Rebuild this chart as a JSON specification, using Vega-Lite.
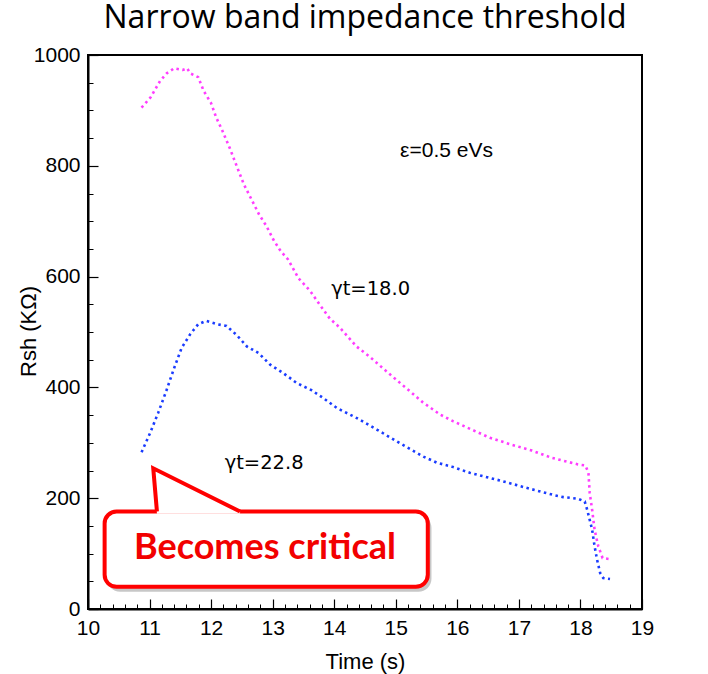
{
  "$schema": "https://vega.github.io/schema/vega-lite/v6.json",
  "width": 554,
  "height": 554,
  "autosize": "none",
  "padding": {"left": 88, "top": 55, "right": 66, "bottom": 65},
  "background": "white",
  "config": {
    "view": {"stroke": "black", "strokeWidth": 2},
    "axis": {
      "grid": false,
      "labelFont": "Liberation Sans",
      "titleFont": "Liberation Sans",
      "labelColor": "black",
      "titleColor": "black",
      "tickColor": "black",
      "domainColor": "black"
    }
  },
  "title": {
    "text": "Narrow  band impedance threshold",
    "font": "Open Sans",
    "fontSize": 32,
    "fontWeight": "normal",
    "color": "black",
    "anchor": "middle",
    "baseline": "alphabetic",
    "offset": -16
  },
  "datasets": {
    "curves": [
      {"series": "gt18", "t": 10.87, "r": 905},
      {"series": "gt18", "t": 11.02, "r": 924},
      {"series": "gt18", "t": 11.17, "r": 953},
      {"series": "gt18", "t": 11.28, "r": 967},
      {"series": "gt18", "t": 11.40, "r": 976},
      {"series": "gt18", "t": 11.54, "r": 973},
      {"series": "gt18", "t": 11.61, "r": 976},
      {"series": "gt18", "t": 11.66, "r": 967},
      {"series": "gt18", "t": 11.79, "r": 960},
      {"series": "gt18", "t": 11.88, "r": 935},
      {"series": "gt18", "t": 12.00, "r": 913},
      {"series": "gt18", "t": 12.08, "r": 888},
      {"series": "gt18", "t": 12.18, "r": 864},
      {"series": "gt18", "t": 12.31, "r": 830},
      {"series": "gt18", "t": 12.40, "r": 804},
      {"series": "gt18", "t": 12.53, "r": 767},
      {"series": "gt18", "t": 12.63, "r": 745},
      {"series": "gt18", "t": 12.78, "r": 712},
      {"series": "gt18", "t": 12.90, "r": 691},
      {"series": "gt18", "t": 13.01, "r": 667},
      {"series": "gt18", "t": 13.13, "r": 646},
      {"series": "gt18", "t": 13.25, "r": 631},
      {"series": "gt18", "t": 13.42, "r": 597},
      {"series": "gt18", "t": 13.61, "r": 574},
      {"series": "gt18", "t": 13.76, "r": 550},
      {"series": "gt18", "t": 13.93, "r": 524},
      {"series": "gt18", "t": 14.09, "r": 508},
      {"series": "gt18", "t": 14.36, "r": 474},
      {"series": "gt18", "t": 14.58, "r": 455},
      {"series": "gt18", "t": 14.90, "r": 424},
      {"series": "gt18", "t": 15.23, "r": 393},
      {"series": "gt18", "t": 15.44, "r": 373},
      {"series": "gt18", "t": 15.72, "r": 351},
      {"series": "gt18", "t": 15.93, "r": 339},
      {"series": "gt18", "t": 16.23, "r": 324},
      {"series": "gt18", "t": 16.53, "r": 309},
      {"series": "gt18", "t": 16.87, "r": 297},
      {"series": "gt18", "t": 17.21, "r": 286},
      {"series": "gt18", "t": 17.53, "r": 273},
      {"series": "gt18", "t": 17.96, "r": 261},
      {"series": "gt18", "t": 18.08, "r": 259},
      {"series": "gt18", "t": 18.13, "r": 246},
      {"series": "gt18", "t": 18.15, "r": 210},
      {"series": "gt18", "t": 18.19, "r": 179},
      {"series": "gt18", "t": 18.23, "r": 143},
      {"series": "gt18", "t": 18.29, "r": 113},
      {"series": "gt18", "t": 18.36, "r": 92},
      {"series": "gt18", "t": 18.48, "r": 90},
      {"series": "gt22", "t": 10.87, "r": 283},
      {"series": "gt22", "t": 11.01, "r": 318},
      {"series": "gt22", "t": 11.14, "r": 354},
      {"series": "gt22", "t": 11.27, "r": 393},
      {"series": "gt22", "t": 11.39, "r": 432},
      {"series": "gt22", "t": 11.52, "r": 471},
      {"series": "gt22", "t": 11.66, "r": 496},
      {"series": "gt22", "t": 11.79, "r": 514},
      {"series": "gt22", "t": 11.92, "r": 520},
      {"series": "gt22", "t": 12.10, "r": 514},
      {"series": "gt22", "t": 12.25, "r": 511},
      {"series": "gt22", "t": 12.42, "r": 494},
      {"series": "gt22", "t": 12.58, "r": 474},
      {"series": "gt22", "t": 12.77, "r": 462},
      {"series": "gt22", "t": 12.96, "r": 441},
      {"series": "gt22", "t": 13.17, "r": 426},
      {"series": "gt22", "t": 13.39, "r": 408},
      {"series": "gt22", "t": 13.63, "r": 395},
      {"series": "gt22", "t": 13.82, "r": 381},
      {"series": "gt22", "t": 14.04, "r": 363},
      {"series": "gt22", "t": 14.36, "r": 345},
      {"series": "gt22", "t": 14.69, "r": 324},
      {"series": "gt22", "t": 15.01, "r": 303},
      {"series": "gt22", "t": 15.34, "r": 282},
      {"series": "gt22", "t": 15.45, "r": 275},
      {"series": "gt22", "t": 15.67, "r": 264},
      {"series": "gt22", "t": 15.91, "r": 257},
      {"series": "gt22", "t": 16.20, "r": 246},
      {"series": "gt22", "t": 16.69, "r": 232},
      {"series": "gt22", "t": 17.18, "r": 217},
      {"series": "gt22", "t": 17.59, "r": 205},
      {"series": "gt22", "t": 17.72, "r": 202},
      {"series": "gt22", "t": 17.96, "r": 199},
      {"series": "gt22", "t": 18.07, "r": 194},
      {"series": "gt22", "t": 18.11, "r": 179},
      {"series": "gt22", "t": 18.15, "r": 161},
      {"series": "gt22", "t": 18.19, "r": 143},
      {"series": "gt22", "t": 18.23, "r": 113},
      {"series": "gt22", "t": 18.27, "r": 89},
      {"series": "gt22", "t": 18.32, "r": 65},
      {"series": "gt22", "t": 18.37, "r": 56},
      {"series": "gt22", "t": 18.48, "r": 54}
    ],
    "shadow": [{"t": 10.31, "t2": 15.58, "r": 170, "r2": 31}],
    "box": [{"t": 10.27, "t2": 15.52, "r": 176, "r2": 40}],
    "pointer": [
      {"t": 11.06, "r": 254, "r2": 254},
      {"t": 11.12, "r": 250.7, "r2": 172},
      {"t": 12.47, "r": 176, "r2": 172}
    ],
    "pointerEdge": [
      {"k": 1, "t": 11.12, "r": 176},
      {"k": 2, "t": 11.06, "r": 254},
      {"k": 3, "t": 12.47, "r": 176}
    ],
    "energy": [{"text": "ε=0.5 eVs", "t": 15.07, "r": 826}],
    "gamma": [
      {"text": "γt=18.0", "t": 13.95, "r": 577},
      {"text": "γt=22.8", "t": 12.22, "r": 264}
    ],
    "callout": [{"text": "Becomes critical", "t": 12.875, "r": 90}]
  },
  "layer": [
    {
      "data": {"name": "shadow"},
      "mark": {"type": "rect", "color": "#000000", "opacity": 0.22, "cornerRadius": 13},
      "encoding": {
        "x": {
          "field": "t", "type": "quantitative",
          "scale": {"domain": [10, 19], "nice": false, "zero": false},
          "axis": {
            "orient": "bottom",
            "values": [10.2, 10.4, 10.6, 10.8, 11.2, 11.4, 11.6, 11.8, 12.2, 12.4, 12.6, 12.8, 13.2, 13.4, 13.6, 13.8, 14.2, 14.4, 14.6, 14.8, 15.2, 15.4, 15.6, 15.8, 16.2, 16.4, 16.6, 16.8, 17.2, 17.4, 17.6, 17.8, 18.2, 18.4, 18.6, 18.8],
            "tickSize": -5,
            "tickWidth": 1,
            "labels": false,
            "domain": false,
            "title": null
          }
        },
        "x2": {"field": "t2"},
        "y": {
          "field": "r", "type": "quantitative",
          "scale": {"domain": [0, 1000], "nice": false, "zero": false},
          "axis": {
            "orient": "left",
            "values": [50, 100, 150, 250, 300, 350, 450, 500, 550, 650, 700, 750, 850, 900, 950],
            "tickSize": -5,
            "tickWidth": 1,
            "labels": false,
            "domain": false,
            "title": null
          }
        },
        "y2": {"field": "r2"}
      }
    },
    {
      "data": {"name": "box"},
      "mark": {"type": "rect", "fill": "white", "stroke": "#ff0000", "strokeWidth": 4, "cornerRadius": 12},
      "encoding": {
        "x": {"field": "t", "type": "quantitative", "scale": {"domain": [10, 19], "nice": false, "zero": false}, "axis": null},
        "x2": {"field": "t2"},
        "y": {"field": "r", "type": "quantitative", "scale": {"domain": [0, 1000], "nice": false, "zero": false}, "axis": null},
        "y2": {"field": "r2"}
      }
    },
    {
      "data": {"name": "pointer"},
      "mark": {"type": "area", "fill": "white", "opacity": 1},
      "encoding": {
        "x": {"field": "t", "type": "quantitative", "scale": {"domain": [10, 19], "nice": false, "zero": false}, "axis": null},
        "y": {"field": "r", "type": "quantitative", "scale": {"domain": [0, 1000], "nice": false, "zero": false}, "axis": null},
        "y2": {"field": "r2"}
      }
    },
    {
      "data": {"name": "pointerEdge"},
      "mark": {"type": "line", "color": "#ff0000", "strokeWidth": 4, "strokeJoin": "miter"},
      "encoding": {
        "x": {"field": "t", "type": "quantitative", "scale": {"domain": [10, 19], "nice": false, "zero": false}, "axis": null},
        "y": {"field": "r", "type": "quantitative", "scale": {"domain": [0, 1000], "nice": false, "zero": false}, "axis": null},
        "order": {"field": "k", "type": "quantitative"}
      }
    },
    {
      "data": {"name": "callout"},
      "mark": {"type": "text", "font": "Lato", "fontWeight": "bold", "fontSize": 36, "color": "#f20000", "align": "center", "baseline": "alphabetic"},
      "encoding": {
        "x": {"field": "t", "type": "quantitative", "scale": {"domain": [10, 19], "nice": false, "zero": false}, "axis": null},
        "y": {"field": "r", "type": "quantitative", "scale": {"domain": [0, 1000], "nice": false, "zero": false}, "axis": null},
        "text": {"field": "text"}
      }
    },
    {
      "data": {"name": "curves"},
      "mark": {"type": "line", "strokeWidth": 2.6, "strokeDash": [2.5, 3.5], "strokeCap": "butt"},
      "encoding": {
        "x": {
          "field": "t", "type": "quantitative",
          "scale": {"domain": [10, 19], "nice": false, "zero": false},
          "axis": {
            "orient": "bottom",
            "values": [10, 11, 12, 13, 14, 15, 16, 17, 18, 19],
            "format": "d",
            "tickSize": -10,
            "tickWidth": 1.2,
            "labelFontSize": 21,
            "labelPadding": 18,
            "labelFlush": false,
            "labelOverlap": false,
            "domainWidth": 2,
            "title": "Time (s)",
            "titleFontSize": 22,
            "titleFontWeight": "normal",
            "titleX": 277,
            "titleY": 59,
            "titleAlign": "center",
            "titleBaseline": "alphabetic"
          }
        },
        "y": {
          "field": "r", "type": "quantitative",
          "scale": {"domain": [0, 1000], "nice": false, "zero": false},
          "axis": {
            "orient": "left",
            "values": [0, 200, 400, 600, 800, 1000],
            "format": "d",
            "tickSize": -10,
            "tickWidth": 1.2,
            "labelFontSize": 21,
            "labelPadding": 18,
            "labelFlush": false,
            "labelOverlap": false,
            "domainWidth": 2,
            "title": "Rsh (KΩ)",
            "titleFontSize": 22,
            "titleFontWeight": "normal",
            "titleX": -60,
            "titleY": 276,
            "titleAngle": 270,
            "titleAlign": "center",
            "titleBaseline": "middle"
          }
        },
        "color": {
          "field": "series", "type": "nominal",
          "scale": {"domain": ["gt18", "gt22"], "range": ["#ff3dff", "#1a3cff"]},
          "legend": null
        }
      }
    },
    {
      "data": {"name": "energy"},
      "mark": {"type": "text", "font": "Liberation Sans", "fontSize": 21, "color": "black", "align": "left", "baseline": "middle"},
      "encoding": {
        "x": {"field": "t", "type": "quantitative", "scale": {"domain": [10, 19], "nice": false, "zero": false}, "axis": null},
        "y": {"field": "r", "type": "quantitative", "scale": {"domain": [0, 1000], "nice": false, "zero": false}, "axis": null},
        "text": {"field": "text"}
      }
    },
    {
      "data": {"name": "gamma"},
      "mark": {"type": "text", "font": "DejaVu Sans", "fontSize": 19.5, "color": "black", "align": "left", "baseline": "middle"},
      "encoding": {
        "x": {"field": "t", "type": "quantitative", "scale": {"domain": [10, 19], "nice": false, "zero": false}, "axis": null},
        "y": {"field": "r", "type": "quantitative", "scale": {"domain": [0, 1000], "nice": false, "zero": false}, "axis": null},
        "text": {"field": "text"}
      }
    }
  ],
  "resolve": {"axis": {"x": "independent", "y": "independent"}}
}
